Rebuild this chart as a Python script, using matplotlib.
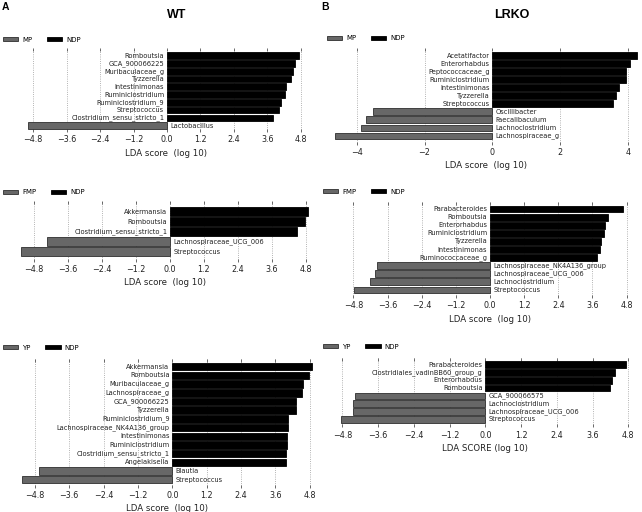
import numpy as np
import matplotlib
matplotlib.use("Agg")
import matplotlib.pyplot as plt
from matplotlib.patches import Patch

W, H = 642, 512
fig = plt.figure(figsize=(W / 100, H / 100), dpi=100)

# ---------------- data ----------------
wt_mp_features = ["Romboutsia", "GCA_900066225", "Muribaculaceae_g", "Tyzzerella",
                  "Intestinimonas", "Ruminiclostridium", "Ruminiclostridium_9",
                  "Streptococcus", "Clostridium_sensu_stricto_1", "Lactobacillus"]
wt_mp_lda = [4.73, 4.57, 4.53, 4.43, 4.26, 4.23, 4.07, 4.02, 3.81, -5.0]

lrko_mp_features = ["Acetatifactor", "Enterorhabdus", "Peptococcaceae_g", "Ruminiclostridium",
                    "Intestinimonas", "Tyzzerella", "Streptococcus", "Oscillibacter",
                    "Faecalibaculum", "Lachnoclostridium", "Lachnospiraceae_g"]
lrko_mp_lda = [4.26, 4.06, 3.94, 3.94, 3.73, 3.66, 3.57, -3.51, -3.73, -3.88, -4.65]

wt_fmp_features = ["Akkermansia", "Romboutsia", "Clostridium_sensu_stricto_1",
                   "Lachnospiraceae_UCG_006", "Streptococcus"]
wt_fmp_lda = [4.89, 4.78, 4.50, -4.33, -5.26]

lrko_fmp_features = ["Parabacteroides", "Romboutsia", "Enterorhabdus", "Ruminiclostridium",
                     "Tyzzerella", "Intestinimonas", "Ruminococcaceae_g",
                     "Lachnospiraceae_NK4A136_group", "Lachnospiraceae_UCG_006",
                     "Lachnoclostridium", "Streptococcus"]
lrko_fmp_lda = [4.68, 4.14, 4.05, 3.99, 3.90, 3.87, 3.76, -3.96, -4.04, -4.21, -4.77]

wt_yp_features = ["Akkermansia", "Romboutsia", "Muribaculaceae_g", "Lachnospiraceae_g",
                  "GCA_900066225", "Tyzzerella", "Ruminiclostridium_9",
                  "Lachnospiraceae_NK4A136_group", "Intestinimonas", "Ruminiclostridium",
                  "Clostridium_sensu_stricto_1", "Angelakisella", "Blautia", "Streptococcus"]
wt_yp_lda = [4.89, 4.77, 4.57, 4.54, 4.32, 4.32, 4.04, 4.03, 3.99, 3.99, 3.97, 3.96,
             -4.64, -5.26]

lrko_yp_features = ["Parabacteroides", "Clostridiales_vadinBB60_group_g", "Enterorhabdus",
                    "Romboutsia", "GCA_900066575", "Lachnoclostridium",
                    "Lachnospiraceae_UCG_006", "Streptococcus"]
lrko_yp_lda = [4.72, 4.35, 4.24, 4.19, -4.38, -4.43, -4.43, -4.84]

ticks_12 = [-4.8, -3.6, -2.4, -1.2, 0.0, 1.2, 2.4, 3.6, 4.8]
ticks_2 = [-4, -2, 0, 2, 4]

NEG_COLOR = "#676767"
POS_COLOR = "#000000"

# ---------------- layout (pixels) ----------------
panels = [
    dict(f=wt_mp_features, v=wt_mp_lda, g="MP", ticks=ticks_12, xlim=(-5.0, 4.9),
         xlabel="LDA score  (log 10)", zero=167, ppu=27.9, top=48, bottom=132,
         first=55.7, last=125.7, leg=(3, 39.5)),
    dict(f=lrko_mp_features, v=lrko_mp_lda, g="MP", ticks=ticks_2, xlim=(-4.7, 4.3),
         xlabel="LDA score  (log 10)", zero=492.3, ppu=33.9, top=48.3, bottom=144.7,
         first=55.7, last=136, leg=(326.5, 38.5)),
    dict(f=wt_fmp_features, v=wt_fmp_lda, g="FMP", ticks=ticks_12, xlim=(-5.3, 4.95),
         xlabel="LDA score  (log 10)", zero=170, ppu=28.3, top=200.7, bottom=261.7,
         first=211.7, last=251.7, leg=(3, 192.3)),
    dict(f=lrko_fmp_features, v=lrko_fmp_lda, g="FMP", ticks=ticks_12, xlim=(-4.85, 4.85),
         xlabel="LDA score  (log 10)", zero=490, ppu=28.47, top=201.7, bottom=298,
         first=209, last=290, leg=(322.7, 191.7)),
    dict(f=wt_yp_features, v=wt_yp_lda, g="YP", ticks=ticks_12, xlim=(-5.3, 4.95),
         xlabel="LDA score  (log 10)", zero=172.3, ppu=28.65, top=359, bottom=487.7,
         first=366.7, last=479.7, leg=(3, 347.7)),
    dict(f=lrko_yp_features, v=lrko_yp_lda, g="YP", ticks=ticks_12, xlim=(-4.88, 4.85),
         xlabel="LDA SCORE (log 10)", zero=485.3, ppu=29.8, top=358.3, bottom=427.3,
         first=364.7, last=419.3, leg=(323, 346.7)),
]

FS_FEAT = 4.8
FS_TICK = 5.8
FS_LAB = 6.2
FS_LEG = 5.0

for p in panels:
    n = len(p["f"])
    left = p["zero"] + p["xlim"][0] * p["ppu"]
    right = p["zero"] + p["xlim"][1] * p["ppu"]
    ax = fig.add_axes([left / W, 1 - p["bottom"] / H, (right - left) / W,
                       (p["bottom"] - p["top"]) / H])
    s = (p["last"] - p["first"]) / (n - 1)
    ymin = -(p["first"] - p["top"]) / s
    ymax = (n - 1) + (p["bottom"] - p["last"]) / s
    y = np.arange(n)
    vals = np.array(p["v"])
    colors = [POS_COLOR if v > 0 else NEG_COLOR for v in vals]
    edges = ["#000000" if v > 0 else "#2e2e2e" for v in vals]
    ax.barh(y, vals, height=0.86, color=colors, edgecolor=edges, linewidth=0.6, zorder=3)
    for yi, (name, v) in enumerate(zip(p["f"], vals)):
        if v > 0:
            ax.annotate(name, xy=(0, yi), xytext=(-2, 0), textcoords="offset points",
                        ha="right", va="center", fontsize=FS_FEAT, color="#222222")
        else:
            ax.annotate(name, xy=(0, yi), xytext=(2.5, 0), textcoords="offset points",
                        ha="left", va="center", fontsize=FS_FEAT, color="#222222")
    ax.set_xlim(*p["xlim"])
    ax.set_ylim(ymax, ymin)
    ax.set_yticks([])
    ax.set_xticks(p["ticks"])
    ax.set_xticklabels([("\u2212" if t < 0 else "") + (f"{abs(t):.1f}" if p["ticks"] is ticks_12 else f"{abs(t):d}")
                        for t in p["ticks"]], fontsize=FS_TICK, color="#222222")
    ax.tick_params(axis="x", direction="in", length=2.5, width=0.6, pad=2.5,
                   top=True, bottom=True, color="#555555")
    ax.grid(axis="x", linestyle=":", color="#9a9a9a", linewidth=0.6, zorder=0)
    for sp in ax.spines.values():
        sp.set_visible(False)
    ax.set_facecolor("none")
    ax.set_xlabel(p["xlabel"], fontsize=FS_LAB, labelpad=3, color="#222222")

    handles = [Patch(facecolor=NEG_COLOR, edgecolor="#2e2e2e", linewidth=0.6),
               Patch(facecolor=POS_COLOR, edgecolor="#000000", linewidth=0.6)]
    lx, ly = p["leg"]
    fig.legend(handles, [p["g"], "NDP"], loc="center left",
               bbox_to_anchor=(lx / W, 1 - ly / H), ncol=2, frameon=False,
               fontsize=FS_LEG, borderpad=0, borderaxespad=0, handlelength=2.2,
               handleheight=0.6, handletextpad=0.6, columnspacing=2.1)

fig.text(177 / W, 1 - 15 / H, "WT", ha="center", va="center", fontsize=9,
         fontweight="bold", family="Liberation Sans")
fig.text(511.7 / W, 1 - 15 / H, "LRKO", ha="center", va="center", fontsize=9,
         fontweight="bold", family="Liberation Sans")
fig.text(2 / W, 1 - 7 / H, "A", ha="left", va="center", fontsize=7.5,
         fontweight="bold", family="Liberation Sans")
fig.text(321 / W, 1 - 7 / H, "B", ha="left", va="center", fontsize=7.5,
         fontweight="bold", family="Liberation Sans")

fig.savefig("out.png", dpi=100, facecolor="white")
